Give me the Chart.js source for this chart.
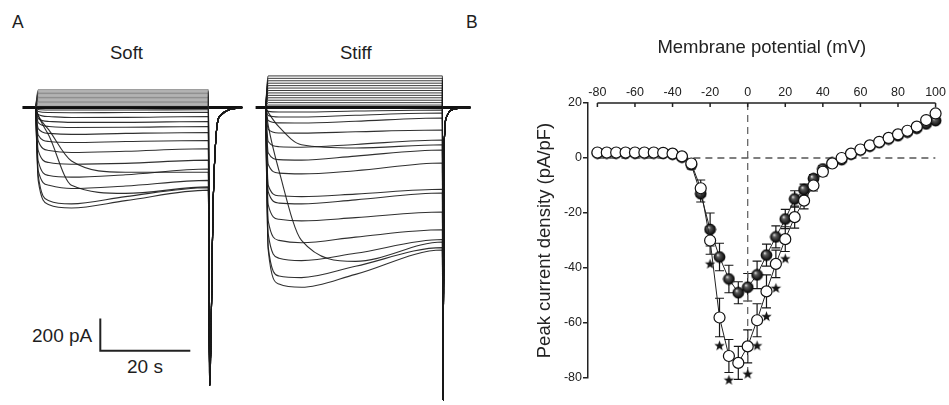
<!DOCTYPE html>
<html>
<head>
<meta charset="utf-8">
<script src="https://cdn.jsdelivr.net/npm/chart.js@4.4.1/dist/chart.umd.min.js"></script>
<style>
  html, body { margin: 0; padding: 0; background: #fff; width: 949px; height: 405px; overflow: hidden; }
  canvas { position: absolute; }
  .lbl { position: absolute; font-family: "Liberation Sans", Arial, sans-serif; color: #1e1e1e; line-height: 1; white-space: nowrap; }
</style>
</head>
<body>
<div class="lbl" style="left:12px;top:14px;font-size:17.5px">A</div>
<div class="lbl" style="left:466px;top:14px;font-size:17.5px">B</div>
<div class="lbl" style="left:110px;top:43.5px;font-size:18.5px">Soft</div>
<div class="lbl" style="left:340px;top:43.5px;font-size:18.5px">Stiff</div>
<div class="lbl" style="left:32px;top:325.6px;font-size:19px">200 pA</div>
<div class="lbl" style="left:127px;top:357.2px;font-size:19px">20 s</div>

<canvas id="softChart" width="225" height="340" style="left:22px;top:67px"></canvas>
<canvas id="stiffChart" width="225" height="340" style="left:252px;top:67px"></canvas>
<canvas id="ivChart" width="479" height="405" style="left:470px;top:0px"></canvas>

<script>
// ---------- Panel A: current traces (time in s, current in pA) ----------
const softTimes = [0, 0.6, 3, 8, 20, 38.4];
const softInward = [
  [0, -450, -600, -620, -575, -510],
  [0, -420, -575, -595, -550, -495],
  [0, -50, -175, -480, -530, -490],
  [0, -390, -480, -500, -485, -450],
  [0, -330, -420, -430, -415, -380],
  [0, -50, -140, -330, -400, -400],
  [0, -265, -340, -350, -345, -325],
  [0, -205, -265, -278, -270, -255],
  [0, -170, -210, -216, -210, -204],
  [0, -130, -160, -166, -160, -154],
  [0, -93, -117, -123, -122, -117],
  [0, -68, -86, -92, -92, -86],
  [0, -43, -56, -62, -61, -56],
  [0, -25, -31, -32, -31, -30],
  [0, -12, -15, -15, -15, -14]
];
const softOutward = [6, 14, 22, 30, 38, 46, 54, 62, 70, 78, 86, 94, 102, 110];
const softTailDt = [0.3, 1.1, 1.8, 2.7, 7.6];
const softTailPA = [-1715, -575, -150, -50, 0];
const softHold = [-2.9, 46];

const stiffTimes = [0, 0.6, 3, 8, 20, 39.3];
const stiffInward = [
  [0, -880, -1090, -1110, -1030, -880],
  [0, -860, -1040, -1050, -980, -865],
  [0, -110, -390, -820, -950, -830],
  [0, -780, -930, -945, -900, -815],
  [0, -700, -820, -835, -800, -755],
  [0, -600, -690, -700, -680, -645],
  [0, -520, -590, -595, -570, -528],
  [0, -480, -545, -550, -535, -505],
  [0, -30, -120, -230, -250, -230],
  [0, -350, -405, -410, -390, -343],
  [0, -280, -322, -325, -300, -262],
  [0, -210, -242, -245, -228, -201],
  [0, -135, -157, -158, -150, -139],
  [0, -80, -95, -96, -85, -65],
  [0, -50, -59, -59, -48, -34],
  [0, -24, -28, -28, -22, -15]
];
const stiffOutward = [15, 30, 45, 60, 75, 90, 105, 120, 135, 150, 165, 180, 195];
const stiffTailDt = [0.15, 0.4, 0.9, 2.0, 6.3];
const stiffTailPA = [-1805, -250, -60, -15, 0];
const stiffHold = [-2.2, 45.6];

// scale bar: 200 pA / 20 s
const scaleBarPA = 200;
const scaleBarS = 20;
const scaleBarCorner = [14.4, -1502];

// ---------- Panel B: I-V curve ----------
const voltages = [-80, -75, -70, -65, -60, -55, -50, -45, -40, -35, -30, -25, -20, -15, -10, -5, 0, 5, 10,
  15, 20, 25, 30, 35, 40, 45, 50, 55, 60, 65, 70, 75, 80, 85, 90, 95, 100];
const openMean = [2.0, 2.0, 2.0, 2.0, 2.0, 2.0, 2.0, 1.9, 1.6, 0.6, -2.0, -11, -30, -58, -72, -74.5, -68.5,
  -59, -48.5, -38.5, -29.5, -21.5, -15.5, -10, -5, -2, 0, 1.6, 3.1, 4.6, 5.9, 7.3, 8.6, 9.9, 11.4, 13.8, 16.2];
const openSem = [0.6, 0.6, 0.6, 0.6, 0.6, 0.6, 0.6, 0.6, 0.7, 0.9, 1.5, 3, 5, 7, 6, 6, 6,
  6, 6, 5, 4.5, 4, 3, 2, 1.5, 1, 0.8, 0.8, 0.8, 0.8, 0.8, 0.8, 0.8, 0.8, 0.9, 1, 1.2];
const filledMean = [1.8, 1.8, 1.8, 1.8, 1.8, 1.8, 1.8, 1.7, 1.4, 0.3, -2.5, -13, -26, -36, -44, -49, -47,
  -42.5, -35.3, -28.7, -22.2, -14.9, -11.5, -7.5, -4, -1.8, -0.6, 1.4, 2.9, 4.3, 5.6, 6.9, 8.1, 9.4, 10.8, 12.4, 13.6];
const filledSem = [0.6, 0.6, 0.6, 0.6, 0.6, 0.6, 0.6, 0.6, 0.7, 0.9, 1.5, 3, 6, 5, 5, 4, 5,
  5, 4, 4, 3.5, 3, 2, 1.5, 1.2, 1, 0.8, 0.8, 0.8, 0.8, 0.8, 0.8, 0.8, 0.8, 0.8, 0.8, 0.8];
const starVoltages = [-20, -15, -10, -5, 0, 5, 10, 15, 20];
const starLevels = [-38.6, -68.3, -80.8, -84.1, -78.6, -68.3, -57.7, -47.4, -36.7];
const xTicksB = [-80, -60, -40, -20, 0, 20, 40, 60, 80, 100];
const yTicksB = [-80, -60, -40, -20, 0, 20];

Chart.defaults.font.family = '"Liberation Sans", Arial, sans-serif';
Chart.defaults.color = '#222';

// trace panels share the same pixel scale: 4.5 px per s, 0.162 px per pA
const PX_PER_S = 4.5, PX_PER_PA = 0.162;
const tMin = -3, pAMax = 250;

function buildTrace(times, levels, tailDt, tailPA) {
  const end = times[times.length - 1];
  const pts = times.map((t, i) => ({ x: t, y: levels[i] }));
  tailDt.forEach((d, i) => pts.push({ x: end + d, y: tailPA[i] }));
  return pts;
}

function lineSet(points, width, color) {
  return {
    data: points, showLine: true, borderWidth: width, borderColor: color || 'rgba(25,25,25,0.9)',
    pointRadius: 0, cubicInterpolationMode: 'monotone', clip: false
  };
}

function tracePanel(id, times, inward, outward, tailDt, tailPA, hold, bandColor, extra) {
  const canvas = document.getElementById(id);
  const end = times[times.length - 1];
  const datasets = [];
  inward.forEach(lv => datasets.push(lineSet(buildTrace(times, lv, tailDt, tailPA), 1.1)));
  outward.forEach(v => datasets.push(
    lineSet(buildTrace([0, times[1], end], [0, v, v], tailDt, tailPA), 1, bandColor)));
  datasets.push(lineSet(hold.map(t => ({ x: t, y: 0 })), 3.2, '#111'));
  (extra || []).forEach(d => datasets.push(d));
  new Chart(canvas, {
    type: 'scatter',
    data: { datasets },
    options: {
      responsive: false, animation: false, events: [],
      layout: { padding: 0 },
      plugins: { legend: { display: false }, tooltip: { enabled: false } },
      scales: {
        x: { type: 'linear', display: false, min: tMin, max: tMin + canvas.width / PX_PER_S },
        y: { type: 'linear', display: false, max: pAMax, min: pAMax - canvas.height / PX_PER_PA }
      }
    }
  });
}

const scaleBar = lineSet([
  { x: scaleBarCorner[0], y: scaleBarCorner[1] + scaleBarPA },
  { x: scaleBarCorner[0], y: scaleBarCorner[1] },
  { x: scaleBarCorner[0] + scaleBarS, y: scaleBarCorner[1] }
], 2, '#222');
scaleBar.cubicInterpolationMode = 'default';

tracePanel('softChart', softTimes, softInward, softOutward, softTailDt, softTailPA, softHold,
  'rgba(40,40,40,0.55)', [scaleBar]);
tracePanel('stiffChart', stiffTimes, stiffInward, stiffOutward, stiffTailDt, stiffTailPA, stiffHold,
  'rgba(25,25,25,0.85)');

// ---------- Panel B ----------
function glossyDot(r) {
  const c = document.createElement('canvas');
  const s = Math.ceil(r * 2 + 2);
  c.width = c.height = s;
  const g = c.getContext('2d');
  const m = s / 2;
  const grad = g.createRadialGradient(m - r * 0.35, m - r * 0.4, 0.3, m, m, r);
  grad.addColorStop(0, '#e0e0e0');
  grad.addColorStop(0.3, '#5a5a5a');
  grad.addColorStop(1, '#050505');
  g.fillStyle = grad;
  g.beginPath(); g.arc(m, m, r, 0, Math.PI * 2); g.fill();
  g.lineWidth = 1; g.strokeStyle = '#000'; g.stroke();
  return c;
}

function starShape(outer, inner) {
  const c = document.createElement('canvas');
  const s = Math.ceil(outer * 2 + 2);
  c.width = c.height = s;
  const g = c.getContext('2d');
  const m = s / 2;
  g.beginPath();
  for (let i = 0; i < 10; i++) {
    const r = i % 2 ? inner : outer;
    const a = -Math.PI / 2 + i * Math.PI / 5;
    g.lineTo(m + r * Math.cos(a), m + r * Math.sin(a));
  }
  g.closePath();
  g.fillStyle = '#151515'; g.fill();
  return c;
}

const errorBars = {
  id: 'errorBars',
  beforeDatasetsDraw(chart) {
    const ctx = chart.ctx, xs = chart.scales.x, ys = chart.scales.y;
    chart.data.datasets.forEach(ds => {
      if (!ds.sem) return;
      ctx.save();
      ctx.strokeStyle = '#161616';
      ctx.lineWidth = 1.2;
      ds.data.forEach((p, j) => {
        const x = xs.getPixelForValue(p.x);
        const y1 = ys.getPixelForValue(p.y + ds.sem[j]);
        const y2 = ys.getPixelForValue(p.y - ds.sem[j]);
        ctx.beginPath();
        ctx.moveTo(x, y1); ctx.lineTo(x, y2);
        ctx.moveTo(x - 4.5, y1); ctx.lineTo(x + 4.5, y1);
        ctx.moveTo(x - 4.5, y2); ctx.lineTo(x + 4.5, y2);
        ctx.stroke();
      });
      ctx.restore();
    });
  }
};

// top axis line with inward ticks, running from the first to the last labelled voltage
const topAxis = {
  id: 'topAxis',
  afterDraw(chart) {
    const ctx = chart.ctx, xs = chart.scales.x, top = chart.chartArea.top;
    ctx.save();
    ctx.strokeStyle = '#222';
    ctx.lineWidth = 1.5;
    ctx.beginPath();
    ctx.moveTo(xs.getPixelForValue(xTicksB[0]), top);
    ctx.lineTo(xs.getPixelForValue(xTicksB[xTicksB.length - 1]), top);
    xTicksB.forEach(v => {
      const x = xs.getPixelForValue(v);
      ctx.moveTo(x, top); ctx.lineTo(x, top + 4);
    });
    ctx.stroke();
    ctx.restore();
  }
};

const pts = (xs, ys) => xs.map((x, i) => ({ x, y: ys[i] }));

new Chart(document.getElementById('ivChart'), {
  type: 'scatter',
  data: {
    datasets: [
      { data: pts(starVoltages, starLevels), pointStyle: starShape(5.5, 2.3), pointRadius: 5, clip: false },
      {
        data: pts(voltages, openMean), sem: openSem, showLine: true, borderColor: '#222', borderWidth: 1,
        pointStyle: 'circle', pointRadius: 5.5, pointBackgroundColor: '#fff', pointBorderColor: '#111',
        pointBorderWidth: 1.2, clip: false
      },
      {
        data: pts(voltages, filledMean), sem: filledSem, showLine: true, borderColor: '#222', borderWidth: 1,
        pointStyle: glossyDot(5.4), pointRadius: 5.5, clip: false
      },
      {
        data: [{ x: xTicksB[0], y: 0 }, { x: xTicksB[xTicksB.length - 1], y: 0 }],
        showLine: true, borderColor: '#555', borderWidth: 1.3, borderDash: [7, 5], pointRadius: 0
      },
      {
        data: [{ x: 0, y: yTicksB[yTicksB.length - 1] }, { x: 0, y: yTicksB[0] }],
        showLine: true, borderColor: '#666', borderWidth: 1.3, borderDash: [7, 5], pointRadius: 0
      }
    ]
  },
  options: {
    responsive: false, animation: false, events: [],
    layout: { padding: { left: 64, right: 7, top: 0, bottom: 27 } },
    plugins: { legend: { display: false }, tooltip: { enabled: false } },
    scales: {
      x: {
        type: 'linear', position: 'top', min: -85, max: 100,
        afterBuildTicks: s => { s.ticks = xTicksB.map(v => ({ value: v })); },
        afterFit: s => { s.height = 103; },
        border: { display: false },
        grid: { display: false, drawTicks: false },
        ticks: { font: { size: 12.5 }, color: '#222', padding: 3, maxRotation: 0 },
        title: { display: true, text: 'Membrane potential (mV)', font: { size: 18.5 }, color: '#222', padding: { top: 37, bottom: 0 } }
      },
      y: {
        type: 'linear', min: -80, max: 20,
        afterBuildTicks: s => { s.ticks = yTicksB.map(v => ({ value: v })); },
        afterFit: s => { s.width = 54; },
        border: { display: true, color: '#222', width: 1.5 },
        grid: { drawOnChartArea: false, drawTicks: true, tickLength: 5, color: '#222', lineWidth: 1.5 },
        ticks: { font: { size: 12.5 }, color: '#222', padding: 1 },
        title: { display: true, text: 'Peak current density (pA/pF)', font: { size: 18.5 }, color: '#222', padding: { top: 0, bottom: 0 } }
      }
    }
  },
  plugins: [errorBars, topAxis]
});
</script>
</body>
</html>
